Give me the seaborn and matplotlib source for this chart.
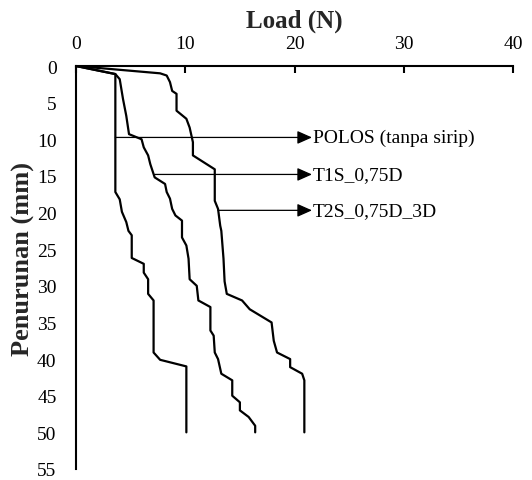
import matplotlib
matplotlib.use("Agg")
import matplotlib.pyplot as plt
import seaborn as sns
import pandas as pd

# Load–settlement curves (Load in N, settlement in mm)
polos_load = [0, 3.6, 3.6, 4.0, 4.2, 4.6, 4.8, 5.1, 5.1, 6.2, 6.2, 6.6, 6.6, 7.1, 7.1, 7.7, 10.1, 10.1]
polos_mm = [0, 1.1, 17.2, 18.2, 19.9, 21.3, 22.5, 23.1, 26.2, 27.0, 28.2, 29.1, 31.1, 32.0, 39.1, 40.1, 41.0, 50.0]

t1s_load = [0, 3.6, 4.0, 4.3, 4.6, 4.85, 6.0, 6.2, 6.6, 6.8, 7.2, 8.15, 8.3, 8.6, 8.8, 9.1, 9.7, 9.7,
            10.1, 10.3, 10.4, 11.05, 11.2, 12.3, 12.3, 12.6, 12.7, 13.0, 13.3, 14.3, 14.3, 15.0, 15.0,
            15.8, 16.4, 16.4]
t1s_mm = [0, 1.1, 1.8, 4.5, 6.8, 9.3, 10.0, 11.1, 12.2, 13.4, 15.2, 16.1, 17.2, 18.1, 19.5, 20.4, 21.1, 23.4,
          24.5, 26.3, 29.1, 30.0, 32.0, 32.9, 36.1, 36.8, 39.1, 40.0, 42.0, 42.9, 45.0, 45.9, 47.0,
          47.9, 49.1, 50.0]

t2s_load = [0, 7.7, 8.3, 8.6, 8.8, 9.2, 9.2, 10.1, 10.4, 10.7, 10.7, 12.7, 12.7, 13.0, 13.2, 13.3, 13.5,
            13.6, 13.8, 15.2, 15.9, 17.9, 18.1, 18.4, 19.6, 19.6, 20.7, 20.9, 20.9]
t2s_mm = [0, 1.0, 1.3, 2.2, 3.4, 3.8, 6.1, 7.2, 8.4, 10.4, 12.2, 14.1, 18.4, 19.5, 21.8, 22.5, 26.3,
          29.4, 31.1, 32.0, 33.2, 35.0, 37.5, 39.1, 40.0, 41.1, 42.0, 42.9, 50.0]

series_names = ["POLOS (tanpa sirip)", "T1S_0,75D", "T2S_0,75D_3D"]
# Callout arrows: start load, settlement level
callout_start = [3.6, 7.2, 13.0]
callout_mm = [9.75, 14.8, 19.7]
callout_tip = 21.6

x_ticks = [0, 10, 20, 30, 40]
y_ticks = [0, 5, 10, 15, 20, 25, 30, 35, 40, 45, 50, 55]

frames = []
for name, xs, ys in zip(series_names, [polos_load, t1s_load, t2s_load], [polos_mm, t1s_mm, t2s_mm]):
    frames.append(pd.DataFrame({"Load": xs, "Penurunan": ys, "Seri": name}))
df = pd.concat(frames, ignore_index=True)

sns.set_theme(style="white")
plt.rcParams["font.family"] = ["Liberation Serif", "DejaVu Serif"]

fig = plt.figure(figsize=(5.32, 4.81), dpi=100)
ax = fig.add_axes([0.1429, 0.0229, 0.8214, 0.8378])

sns.lineplot(data=df, x="Load", y="Penurunan", hue="Seri",
             palette=["black"] * 3, sort=False, estimator=None, linewidth=1.6,
             legend=False, ax=ax)

for x0, y0, name in zip(callout_start, callout_mm, series_names):
    ax.annotate("", xy=(callout_tip, y0), xytext=(x0, y0),
                arrowprops=dict(arrowstyle="-|>,head_length=0.45,head_width=0.2",
                                color="black", lw=0.9, shrinkA=0, shrinkB=0,
                                mutation_scale=20))
    ax.text(callout_tip + 0.1, y0, name, fontsize=14, va="center", ha="left", color="black")

ax.set_xlim(0, 40)
ax.set_ylim(55, 0)
ax.set_xticks(x_ticks)
ax.set_yticks(y_ticks)

ax.xaxis.tick_top()
ax.xaxis.set_label_position("top")
ax.set_xlabel("Load (N)", fontsize=18, fontweight="bold")
ax.set_ylabel("Penurunan (mm)", fontsize=19, fontweight="bold")
ax.xaxis.set_label_coords(0.5, 1.098)
ax.yaxis.set_label_coords(-0.095, 0.524)

ax.tick_params(axis="both", direction="in", length=5, width=1.5, colors="black",
               labelsize=14)
ax.tick_params(axis="y", pad=14)
ax.tick_params(axis="x", pad=10)

for side in ["right", "bottom"]:
    ax.spines[side].set_visible(False)
for side in ["left", "top"]:
    ax.spines[side].set_color("black")
    ax.spines[side].set_linewidth(1.5)

ax.grid(False)
fig.savefig("out.png", dpi=100)
